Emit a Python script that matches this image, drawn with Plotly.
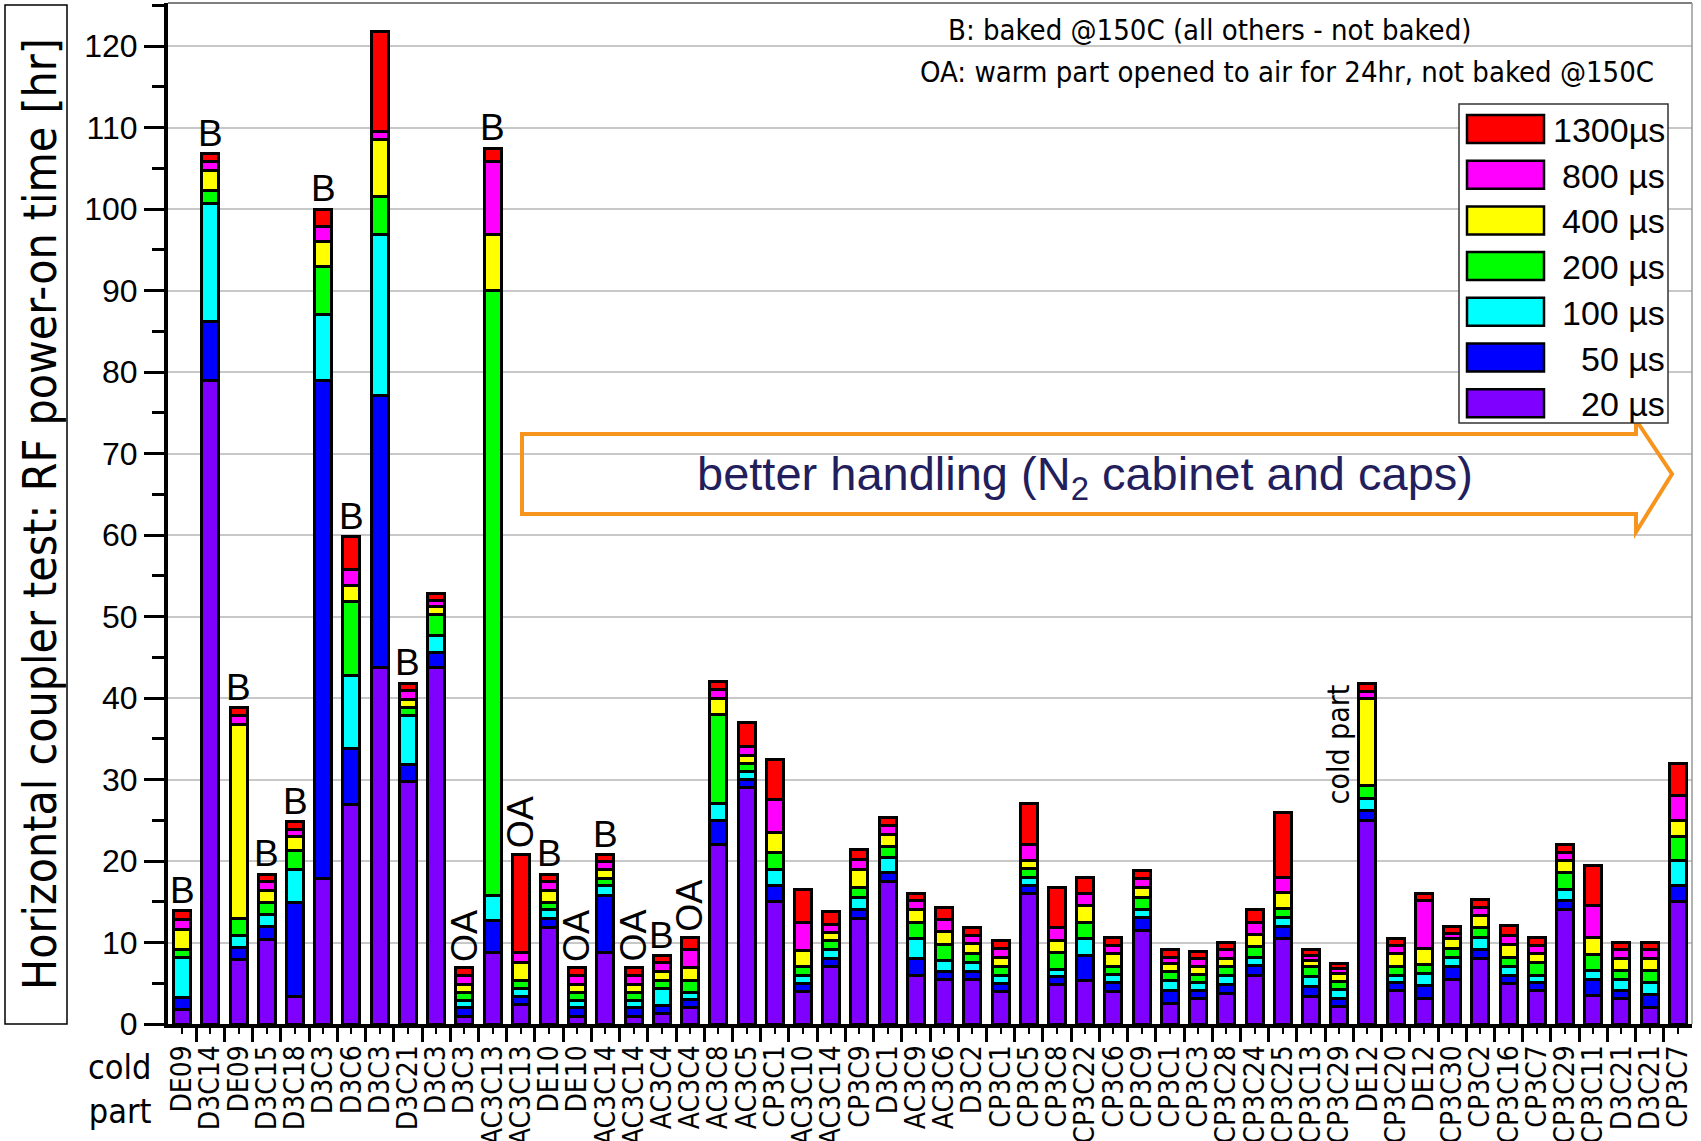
import plotly.graph_objects as go

# ---- data -------------------------------------------------------------
cold_parts = ["DE09", "D3C14", "DE09", "D3C15", "D3C18", "D3C3", "D3C6", "D3C3", "D3C21", "D3C3",
              "D3C3", "AC3C13", "AC3C13", "DE10", "DE10", "AC3C14", "AC3C14", "AC3C4", "AC3C4", "AC3C8",
              "AC3C5", "CP3C1", "AC3C10", "AC3C14", "CP3C9", "D3C1", "AC3C9", "AC3C6", "D3C2", "CP3C1",
              "CP3C5", "CP3C8", "CP3C22", "CP3C6", "CP3C9", "CP3C1", "CP3C3", "CP3C28", "CP3C24", "CP3C25",
              "CP3C13", "CP3C29", "DE12", "CP3C20", "DE12", "CP3C30", "CP3C2", "CP3C16", "CP3C7", "CP3C29",
              "CP3C11", "D3C21", "D3C21", "CP3C7"]

t_20us = [1.8, 79.0, 7.9, 10.4, 3.4, 17.9, 26.9, 43.8, 29.7, 43.7,
          0.9, 8.8, 2.4, 11.8, 0.9, 8.8, 0.9, 1.3, 2.0, 22.0,
          29.0, 15.0, 4.0, 7.0, 13.0, 17.5, 6.0, 5.5, 5.5, 4.0,
          16.0, 4.8, 5.4, 4.0, 11.5, 2.5, 3.1, 3.8, 5.9, 10.5,
          3.4, 2.1, 25.0, 4.1, 3.1, 5.5, 8.0, 5.0, 4.1, 14.1,
          3.5, 3.1, 2.0, 15.0]
t_50us = [1.5, 7.2, 1.5, 1.6, 11.5, 61.1, 6.9, 33.3, 2.1, 1.9,
          1.1, 3.9, 1.0, 1.2, 1.1, 7.0, 1.1, 1.0, 1.0, 3.0,
          1.0, 2.0, 1.0, 1.1, 1.1, 1.1, 2.1, 1.0, 1.0, 1.0,
          1.0, 1.0, 3.0, 1.1, 1.6, 1.6, 1.0, 1.0, 1.3, 1.5,
          1.2, 1.0, 1.2, 1.0, 1.6, 1.6, 1.1, 1.0, 1.0, 1.0,
          2.0, 1.0, 1.6, 2.0]
t_100us = [4.9, 14.5, 1.5, 1.4, 4.0, 8.1, 9.0, 19.8, 6.0, 2.1,
           0.9, 3.1, 1.0, 1.0, 0.9, 1.2, 0.9, 2.1, 0.9, 2.0,
           1.0, 2.0, 1.0, 1.1, 1.4, 1.8, 2.4, 1.3, 1.1, 1.0,
           1.0, 0.9, 2.1, 1.0, 1.0, 1.3, 1.0, 1.1, 1.0, 1.1,
           1.2, 1.1, 1.5, 0.9, 1.5, 1.1, 1.5, 1.0, 0.9, 1.4,
           1.1, 1.4, 1.5, 3.1]
t_200us = [0.9, 1.6, 2.0, 1.5, 2.4, 5.9, 9.0, 4.6, 1.0, 2.5,
           1.0, 74.2, 0.9, 0.9, 1.0, 0.9, 1.0, 1.0, 1.5, 11.0,
           1.0, 2.0, 1.0, 1.0, 1.3, 1.4, 2.0, 2.0, 1.1, 1.1,
           1.1, 2.1, 1.9, 1.0, 1.4, 1.0, 1.0, 1.1, 1.3, 1.1,
           1.3, 1.0, 1.6, 1.1, 1.1, 1.1, 1.2, 1.2, 1.6, 2.1,
           1.9, 1.1, 1.5, 2.9]
t_400us = [2.5, 2.4, 23.9, 1.5, 1.7, 3.0, 2.0, 7.1, 1.0, 1.0,
           1.0, 6.9, 2.2, 1.5, 1.0, 1.1, 1.0, 1.0, 1.5, 2.0,
           1.0, 2.5, 2.0, 1.0, 2.2, 1.5, 1.5, 1.5, 1.2, 1.1,
           1.0, 1.5, 2.1, 1.5, 1.2, 1.0, 1.0, 1.1, 1.5, 1.9,
           0.7, 1.0, 10.6, 1.6, 2.0, 1.2, 1.5, 1.6, 1.0, 1.5,
           2.1, 1.4, 1.4, 2.0]
t_800us = [1.2, 1.1, 1.0, 1.1, 0.9, 1.9, 2.0, 0.9, 1.1, 0.8,
           1.0, 9.0, 1.3, 1.1, 1.0, 0.9, 1.0, 1.1, 2.2, 1.0,
           1.0, 4.0, 3.4, 1.0, 1.2, 1.0, 1.2, 1.5, 1.0, 1.1,
           1.9, 1.5, 1.5, 1.0, 1.1, 0.8, 0.9, 1.0, 1.4, 1.9,
           0.6, 0.6, 0.9, 0.9, 5.9, 0.6, 1.0, 1.1, 1.0, 1.0,
           3.9, 1.1, 1.1, 3.0]
t_1300us = [1.1, 1.0, 1.0, 0.9, 0.9, 2.1, 4.0, 12.3, 0.9, 0.8,
            1.0, 1.6, 12.0, 0.9, 1.0, 0.9, 1.0, 0.9, 1.5, 1.0,
            3.0, 5.0, 4.1, 1.6, 1.2, 1.0, 0.8, 1.5, 1.0, 1.0,
            5.1, 5.0, 2.0, 1.0, 1.0, 0.9, 0.9, 0.9, 1.6, 8.0,
            0.7, 0.6, 1.0, 0.9, 0.8, 0.9, 1.0, 1.2, 1.0, 0.9,
            5.0, 0.9, 0.9, 4.0]

# B = baked @150C, OA = warm part opened to air
treatment = ["B", "B", "B", "B", "B", "B", "B", "", "B", "",
             "OA", "B", "OA", "B", "OA", "B", "OA", "B", "OA", "",
             "", "", "", "", "", "", "", "", "", "",
             "", "", "", "", "", "", "", "", "", "",
             "", "", "", "", "", "", "", "", "", "",
             "", "", "", ""]

pulse_names = ["20 µs", "50 µs", "100 µs", "200 µs", "400 µs", "800 µs", "1300µs"]
pulse_series = [t_20us, t_50us, t_100us, t_200us, t_400us, t_800us, t_1300us]
pulse_colors = ["#7F00FF", "#0000FF", "#00FFFF", "#00FF00", "#FFFF00", "#FF00FF", "#FF0000"]

# ---- page geometry (pixels) --------------------------------------------
W, H = 1701, 1141
L, R, T, B = 168, 9, 3, 117
PW, PH = W - L - R, H - T - B

def px(x):
    return (x - L) / PW

def py(y):
    return (H - B - y) / PH

NARROW = "Liberation Sans Narrow, Arial Narrow, DejaVu Sans Condensed, sans-serif"
ARIAL = "Liberation Sans, Arial, sans-serif"

xpos = list(range(1, len(cold_parts) + 1))

fig = go.Figure()
for name, vals, col in zip(pulse_names, pulse_series, pulse_colors):
    fig.add_trace(go.Bar(
        x=xpos, y=vals, name=name, width=0.6,
        marker=dict(color=col, line=dict(color="black", width=3)),
        showlegend=False,
    ))


def note(x, y, text, size, family=NARROW, color="black", xanchor="center", yanchor="middle", **kw):
    return dict(x=px(x), y=py(y), xref="paper", yref="paper", showarrow=False, text=text,
                xanchor=xanchor, yanchor=yanchor, font=dict(family=family, size=size, color=color), **kw)


annotations = []
totals = [sum(v) for v in zip(*pulse_series)]
for xi, tot, tag in zip(xpos, totals, treatment):
    if tag == "B":
        annotations.append(dict(x=xi, y=tot, text="B", showarrow=False, xref="x", yref="y",
                                xanchor="center", yanchor="bottom", yshift=-2,
                                font=dict(family=ARIAL, size=37, color="black")))
    elif tag == "OA":
        annotations.append(dict(x=xi, y=tot, text="OA", showarrow=False, xref="x", yref="y",
                                xanchor="center", yanchor="bottom", yshift=4, textangle=-90,
                                font=dict(family=ARIAL, size=36, color="black")))

# "cold part" note beside the DE12 bar
annotations.append(dict(x=43, y=34.3, text="cold part", showarrow=False, xref="x", yref="y",
                        xanchor="right", yanchor="middle", xshift=-9, textangle=-90,
                        font=dict(family=NARROW, size=30, color="black")))

# explanatory notes
annotations.append(note(1209, 30, "B: baked @150C (all others - not baked)", 29))
annotations.append(note(1287, 72, "OA: warm part opened to air for 24hr, not baked @150C", 29))

# x-axis caption
annotations.append(note(153, 1089, "cold<br>part", 34, xanchor="right", align="right"))

# y-axis caption (boxed)
annotations.append(note(40, 514, "Horizontal coupler test: RF power-on time [hr]", 46, textangle=-90))

# arrow text
annotations.append(note(1085, 477, "better handling (N<sub>2</sub> cabinet and caps)", 47,
                        family=ARIAL, color="#231E5C"))

shapes = []
# boxed y caption
shapes.append(dict(type="rect", xref="paper", yref="paper", x0=px(5), x1=px(67), y0=py(1024), y1=py(5),
                   line=dict(color="black", width=1.5), fillcolor="rgba(0,0,0,0)"))
# thin top and right frame
shapes.append(dict(type="line", xref="paper", yref="paper", x0=0, x1=1, y0=1, y1=1,
                   line=dict(color="#555555", width=1.5)))
shapes.append(dict(type="line", xref="paper", yref="paper", x0=1, x1=1, y0=0, y1=1,
                   line=dict(color="#999999", width=1.5)))

# outlined block arrow
arrow_pts = [(522, 434), (1636, 434), (1636, 420), (1672, 474), (1636, 532), (1636, 514), (522, 514)]
path = "M " + " L ".join(f"{px(a):.5f},{py(b):.5f}" for a, b in arrow_pts) + " Z"
shapes.append(dict(type="path", xref="paper", yref="paper", path=path,
                   line=dict(color="#F7941D", width=4), fillcolor="rgba(0,0,0,0)"))

# legend box (largest pulse length on top)
shapes.append(dict(type="rect", xref="paper", yref="paper", x0=px(1459), x1=px(1668), y0=py(423), y1=py(104),
                   line=dict(color="#333333", width=1.5), fillcolor="white", layer="above"))
for k, (name, col) in enumerate(zip(reversed(pulse_names), reversed(pulse_colors))):
    cy = 129 + k * 45.7
    shapes.append(dict(type="rect", xref="paper", yref="paper", x0=px(1467), x1=px(1544),
                       y0=py(cy + 14), y1=py(cy - 14),
                       line=dict(color="black", width=2.5), fillcolor=col, layer="above"))
    annotations.append(note(1667, cy + 1, name, 34, family=ARIAL, xanchor="right"))

fig.update_layout(
    width=W, height=H,
    margin=dict(l=L, r=R, t=T, b=B, autoexpand=False),
    barmode="stack",
    bargap=0.4,
    plot_bgcolor="white", paper_bgcolor="white",
    annotations=annotations, shapes=shapes,
    showlegend=False,
)
fig.update_xaxes(
    range=[0.5, len(cold_parts) + 0.5],
    tickmode="array", tickvals=xpos, ticktext=cold_parts, tickangle=-90,
    ticks="outside", ticklen=6, tickwidth=2, tickcolor="black",
    tickfont=dict(family=NARROW, size=28, color="black"),
    minor=dict(tickmode="array", tickvals=[v + 0.5 for v in xpos[:-1]], ticks="outside",
               ticklen=14, tickwidth=3, tickcolor="black"),
    showline=True, linecolor="black", linewidth=4,
    showgrid=False, zeroline=False, automargin=False,
)
fig.update_yaxes(
    range=[0, 125.3],
    tickmode="linear", tick0=0, dtick=10,
    ticks="outside", ticklen=20, tickwidth=3, tickcolor="black",
    tickfont=dict(family=ARIAL, size=32, color="black"),
    minor=dict(dtick=5, ticks="outside", ticklen=12, tickwidth=3, tickcolor="black", showgrid=False),
    showline=True, linecolor="black", linewidth=4,
    showgrid=True, gridcolor="#C8C8C8", gridwidth=2,
    zeroline=False, automargin=False,
)

fig.write_html("out.html")
